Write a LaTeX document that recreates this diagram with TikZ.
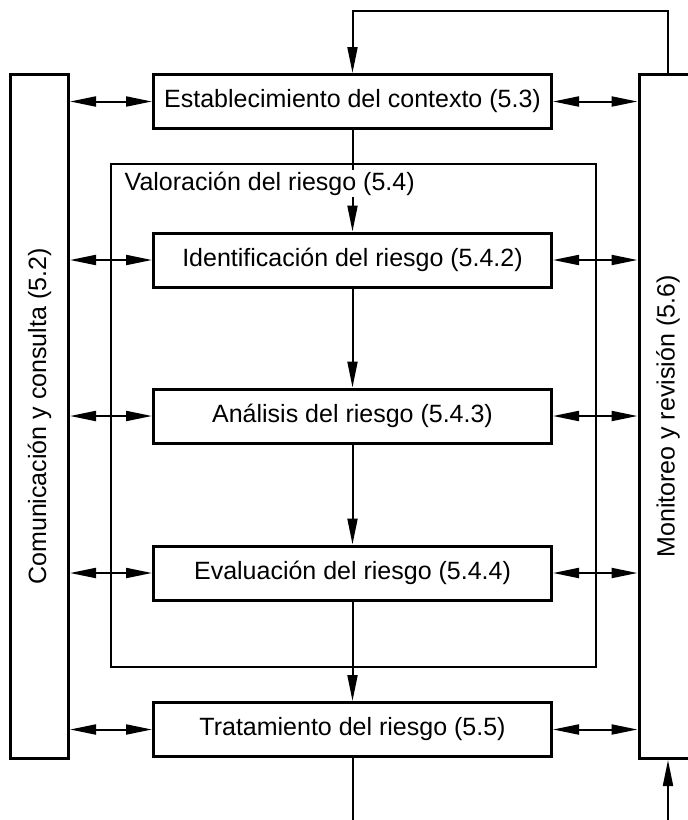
\documentclass[tikz,border=0pt]{standalone}
\usepackage{fontspec}
\setmainfont{Liberation Sans}
\usetikzlibrary{arrows.meta}
\begin{document}
\begin{tikzpicture}[x=1pt,y=-1pt,
  txt/.style={font=\fontsize{25}{30}\selectfont},
  proc/.style={draw, line width=3pt, minimum width=398pt, minimum height=54pt, inner sep=0pt, txt},
  side/.style={draw, line width=3pt, minimum width=58pt, minimum height=684pt, inner sep=0pt},
  grp/.style={draw, line width=2pt, minimum width=485pt, minimum height=503pt, inner sep=0pt},
  tip/.tip={Triangle[length=26pt,width=10pt]},
  conn/.style={line width=2pt, -tip},
  both/.style={line width=2pt, tip-tip},
  plain/.style={line width=2pt}]
\useasboundingbox (0,0) rectangle (688,820);
\fill[white] (0,0) rectangle (688,820);

% side boxes
\node[side] (com) at (39.5,416.5) {};
\node[side] (mon) at (668,416.5) {};
\node[txt, rotate=90] (comt) at (com.center) {Comunicación y consulta (5.2)};
\node[txt, rotate=90] (mont) at (mon.center) {Monitoreo y revisión (5.6)};

% group box
\node[grp] (val) at (353.5,415.5) {};

% process boxes
\node[proc] (est) at (352.5,101.5) {Establecimiento del contexto (5.3)};
\node[proc] (ide) at (352.5,260) {Identificación del riesgo (5.4.2)};
\node[proc] (ana) at (352.5,416) {Análisis del riesgo (5.4.3)};
\node[proc] (eva) at (352.5,573) {Evaluación del riesgo (5.4.4)};
\node[proc] (tra) at (352.5,729.5) {Tratamiento del riesgo (5.5)};

% vertical flow
\draw[conn] (est.south) -- (ide.north);
\draw[conn] (ide.south) -- (ana.north);
\draw[conn] (ana.south) -- (eva.north);
\draw[conn] (eva.south) -- (tra.north);

% group label (over the flow line)
\node[txt, anchor=base west, fill=white, inner sep=1.5pt] (valt) at (123,190) {Valoración del riesgo (5.4)};

% feedback loop
\coordinate (top) at (500,11);
\draw[conn] (mon.north) |- (top) -| (est.north);
\coordinate (botL) at (352.5,822);
\coordinate (botR) at (668,822);
\draw[plain] (tra.south) -- (botL);
\draw[conn] (botR) -- (mon.south);

% horizontal double arrows
\foreach \n in {est,ide,ana,eva,tra}{
  \draw[both] (com.east |- \n.west) -- (\n.west);
  \draw[both] (\n.east) -- (mon.west |- \n.east);
}
\end{tikzpicture}
\end{document}
